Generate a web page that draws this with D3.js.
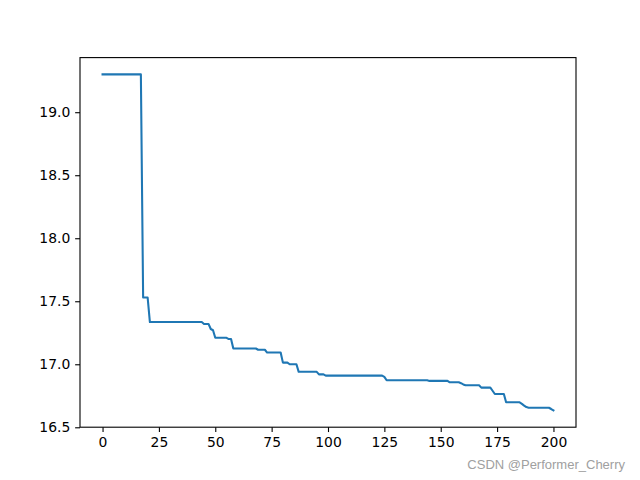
<!DOCTYPE html>
<html>
<head>
    <meta charset="utf-8">
    <title>curve</title>
    <script src="https://d3js.org/d3.v7.min.js"></script>
    <style type="text/css">
        body { margin: 0; background: #fff; }
        .axis path,
        .axis line {
            fill: none;
            stroke: black;
            stroke-width: 1.1px;
        }
        .axis text {
            font-family: "DejaVu Sans", sans-serif;
            font-size: 13.9px;
            fill: black;
        }
    </style>
</head>
<body>
<script>
    // best value per iteration
    var values = [
        19.30, 19.30, 19.30, 19.30, 19.30, 19.30, 19.30, 19.30, 19.30, 19.30,
        19.30, 19.30, 19.30, 19.30, 19.30, 19.30, 19.30, 19.30, 17.53, 17.53,
        17.53, 17.335, 17.335, 17.335, 17.335, 17.335, 17.335, 17.335, 17.335, 17.335,
        17.335, 17.335, 17.335, 17.335, 17.335, 17.335, 17.335, 17.335, 17.335, 17.335,
        17.335, 17.335, 17.335, 17.335, 17.335, 17.32, 17.32, 17.32, 17.28, 17.27,
        17.21, 17.21, 17.21, 17.21, 17.21, 17.21, 17.20, 17.20, 17.125, 17.125,
        17.125, 17.125, 17.125, 17.125, 17.125, 17.125, 17.125, 17.125, 17.125, 17.115,
        17.115, 17.115, 17.115, 17.093, 17.093, 17.093, 17.093, 17.093, 17.093, 17.093,
        17.013, 17.013, 17.013, 17.0, 17.0, 17.0, 17.0, 16.94, 16.94, 16.94,
        16.94, 16.94, 16.94, 16.94, 16.94, 16.94, 16.92, 16.92, 16.92, 16.91,
        16.91, 16.91, 16.91, 16.91, 16.91, 16.91, 16.91, 16.91, 16.91, 16.91,
        16.91, 16.91, 16.91, 16.91, 16.91, 16.91, 16.91, 16.91, 16.91, 16.91,
        16.91, 16.91, 16.91, 16.91, 16.91, 16.90, 16.873, 16.873, 16.873, 16.873,
        16.873, 16.873, 16.873, 16.873, 16.873, 16.873, 16.873, 16.873, 16.873, 16.873,
        16.873, 16.873, 16.873, 16.873, 16.873, 16.868, 16.868, 16.868, 16.868, 16.868,
        16.868, 16.868, 16.868, 16.868, 16.857, 16.857, 16.857, 16.857, 16.857, 16.85,
        16.84, 16.834, 16.834, 16.834, 16.834, 16.834, 16.834, 16.834, 16.815, 16.815,
        16.815, 16.815, 16.815, 16.79, 16.764, 16.764, 16.764, 16.764, 16.764, 16.698,
        16.698, 16.698, 16.698, 16.698, 16.698, 16.698, 16.686, 16.672, 16.66, 16.655,
        16.655, 16.655, 16.655, 16.655, 16.655, 16.655, 16.655, 16.655, 16.655, 16.645,
        16.634
    ];
    var xTicks = [0, 25, 50, 75, 100, 125, 150, 175, 200];
    var yTicks = [16.5, 17.0, 17.5, 18.0, 18.5, 19.0];
    var watermark = "CSDN @Performer_Cherry";

    var w = 640, h = 480;
    var mLeft = 80, mRight = 576, mTop = 57.6, mBottom = 427.2;

    // matplotlib style 5% margins
    var n = values.length - 1;
    var yMin = d3.min(values), yMax = d3.max(values);
    var xPad = n * 0.05, yPad = (yMax - yMin) * 0.05;

    var xScale = d3.scaleLinear()
                   .domain([-xPad, n + xPad])
                   .range([mLeft, mRight]);
    var yScale = d3.scaleLinear()
                   .domain([yMin - yPad, yMax + yPad])
                   .range([mBottom, mTop]);

    var svg = d3.select("body")
                .append("svg")
                .attr("width", w)
                .attr("height", h);

    var line = d3.line()
                 .x(function(d, i) { return xScale(i); })
                 .y(function(d) { return yScale(d); });

    svg.append("path")
       .datum(values)
       .attr("d", line)
       .attr("fill", "none")
       .attr("stroke", "#1f77b4")
       .attr("stroke-width", 2.08)
       .attr("stroke-linejoin", "round")
       .attr("stroke-linecap", "square");

    var xAxis = d3.axisBottom(xScale)
                  .tickValues(xTicks)
                  .tickSize(4.86)
                  .tickPadding(4.86)
                  .tickFormat(d3.format("d"));
    var yAxis = d3.axisLeft(yScale)
                  .tickValues(yTicks)
                  .tickSize(4.86)
                  .tickPadding(4.86)
                  .tickFormat(d3.format(".1f"));

    svg.append("g")
       .attr("class", "axis")
       .attr("transform", "translate(0," + mBottom + ")")
       .call(xAxis)
       .select(".domain").remove();
    svg.append("g")
       .attr("class", "axis")
       .attr("transform", "translate(" + mLeft + ",0)")
       .call(yAxis)
       .select(".domain").remove();

    // frame
    svg.append("rect")
       .attr("x", mLeft)
       .attr("y", mTop)
       .attr("width", mRight - mLeft)
       .attr("height", mBottom - mTop)
       .attr("fill", "none")
       .attr("stroke", "black")
       .attr("stroke-width", 1.1);

    svg.append("text")
       .attr("x", 625)
       .attr("y", 469)
       .attr("text-anchor", "end")
       .attr("font-family", "Liberation Sans, Arial, sans-serif")
       .attr("font-size", "13px")
       .attr("fill", "#a0a0a0")
       .text(watermark);
</script>
</body>
</html>
